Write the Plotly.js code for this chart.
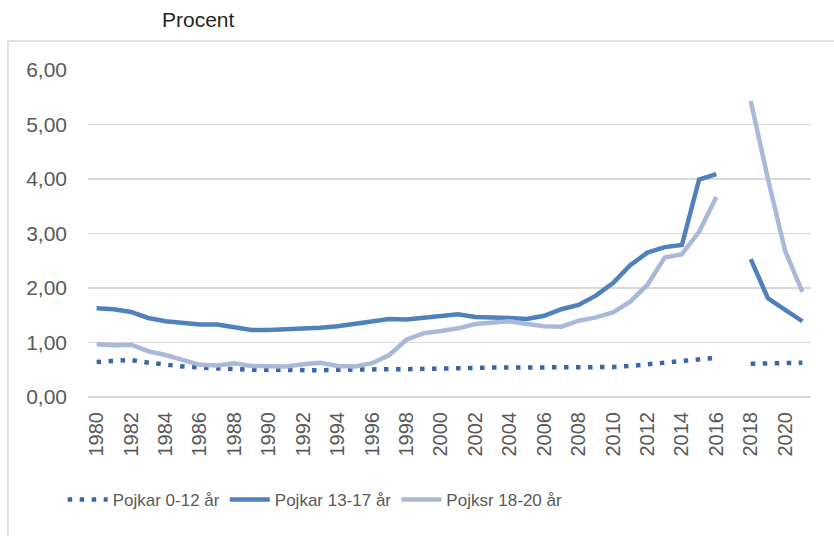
<!DOCTYPE html>
<html>
<head>
<meta charset="utf-8">
<script src="https://cdn.plot.ly/plotly-3.0.1.min.js"></script>
<style>
  html, body { margin: 0; padding: 0; background: #fff; }
  #chart { width: 834px; height: 536px; }
</style>
</head>
<body>
<div id="chart"></div>
<script>
'use strict'

// data (2017 missing)

const years = []
for (let y = 1980; y <= 2021; y++) years.push(y)

const boys_0_12 = [
  0.64, 0.66, 0.68, 0.63, 0.59, 0.56, 0.54, 0.52, 0.51, 0.50,
  0.50, 0.49, 0.49, 0.49, 0.50, 0.51, 0.51, 0.51, 0.51, 0.52,
  0.53, 0.53, 0.54, 0.54, 0.54, 0.54, 0.54, 0.54, 0.54, 0.54,
  0.55, 0.57, 0.60, 0.63, 0.66, 0.70, 0.72, null, 0.61, 0.62,
  0.62, 0.63
]

const boys_13_17 = [
  1.63, 1.61, 1.56, 1.45, 1.39, 1.35, 1.33, 1.33, 1.28, 1.23,
  1.23, 1.24, 1.24, 1.27, 1.30, 1.35, 1.40, 1.43, 1.42, 1.46,
  1.49, 1.52, 1.47, 1.47, 1.45, 1.43, 1.49, 1.61, 1.69, 1.86,
  2.09, 2.42, 2.65, 2.75, 2.79, 3.99, 4.09, null, 2.53, 1.81,
  1.60, 1.39
]

const boys_18_20 = [
  0.97, 0.95, 0.96, 0.84, 0.77, 0.69, 0.59, 0.58, 0.62, 0.57,
  0.56, 0.56, 0.60, 0.63, 0.57, 0.56, 0.62, 0.77, 1.05, 1.17,
  1.21, 1.26, 1.34, 1.37, 1.39, 1.34, 1.30, 1.29, 1.40, 1.46,
  1.55, 1.75, 2.06, 2.56, 2.62, 3.03, 3.67, null, 5.43, 4.00,
  2.68, 1.93
]

const names = ['Pojkar 0-12 år', 'Pojkar 13-17 år', 'Pojksr 18-20 år']

///////////////////////////////////////////////////////

const FONT = '"Liberation Sans", Arial, sans-serif'
const GREY = '#595959'

const traces = [
  {
    x: years, y: boys_0_12, name: names[0],
    type: 'scatter', mode: 'lines',
    line: { color: '#3a67a3', width: 4.5, dash: '4.5px,7.5px' },
    connectgaps: false, hoverinfo: 'none'
  },
  {
    x: years, y: boys_13_17, name: names[1],
    type: 'scatter', mode: 'lines',
    line: { color: '#4f81bd', width: 4.5 },
    connectgaps: false, hoverinfo: 'none'
  },
  {
    x: years, y: boys_18_20, name: names[2],
    type: 'scatter', mode: 'lines',
    line: { color: '#aab9d8', width: 4.5 },
    connectgaps: false, hoverinfo: 'none'
  }
]

const layout = {
  width: 834,
  height: 536,
  margin: { l: 88, r: 23, t: 70, b: 139 },
  paper_bgcolor: '#fff',
  plot_bgcolor: '#fff',
  separators: ', ',
  font: { family: FONT, size: 18, color: GREY },
  showlegend: true,
  legend: {
    orientation: 'h',
    x: -0.035, xanchor: 'left',
    y: -0.315, yanchor: 'middle',
    font: { family: FONT, size: 17, color: GREY },
    itemwidth: 40,
    traceorder: 'normal'
  },
  xaxis: {
    range: [1979.5, 2021.5],
    tick0: 1980, dtick: 2,
    tickangle: -90,
    showgrid: false, zeroline: false, showline: false,
    ticks: '', ticklabelstandoff: 10,
    tickfont: { family: FONT, size: 20, color: GREY }
  },
  yaxis: {
    range: [0, 6], dtick: 1,
    tickformat: '.2f',
    gridcolor: '#d9d9d9', gridwidth: 1.5,
    zeroline: true, zerolinecolor: '#d9d9d9', zerolinewidth: 1.5,
    showline: false, ticks: '', ticklabelstandoff: 20,
    tickfont: { family: FONT, size: 21, color: GREY }
  },
  annotations: [{
    text: 'Procent',
    xref: 'paper', yref: 'paper',
    x: 0.0996, xanchor: 'left',
    y: 1.153, yanchor: 'middle',
    showarrow: false,
    font: { family: FONT, size: 21, color: '#262626' }
  }],
  shapes: [{
    type: 'rect', xref: 'paper', yref: 'paper',
    x0: -0.1107, x1: 1.2, y0: -0.6, y1: 1.0887,
    line: { color: '#d9d9d9', width: 1.5 },
    fillcolor: 'rgba(0,0,0,0)',
    layer: 'below'
  }]
}

Plotly.newPlot('chart', traces, layout, { staticPlot: true, displayModeBar: false })
</script>
</body>
</html>
